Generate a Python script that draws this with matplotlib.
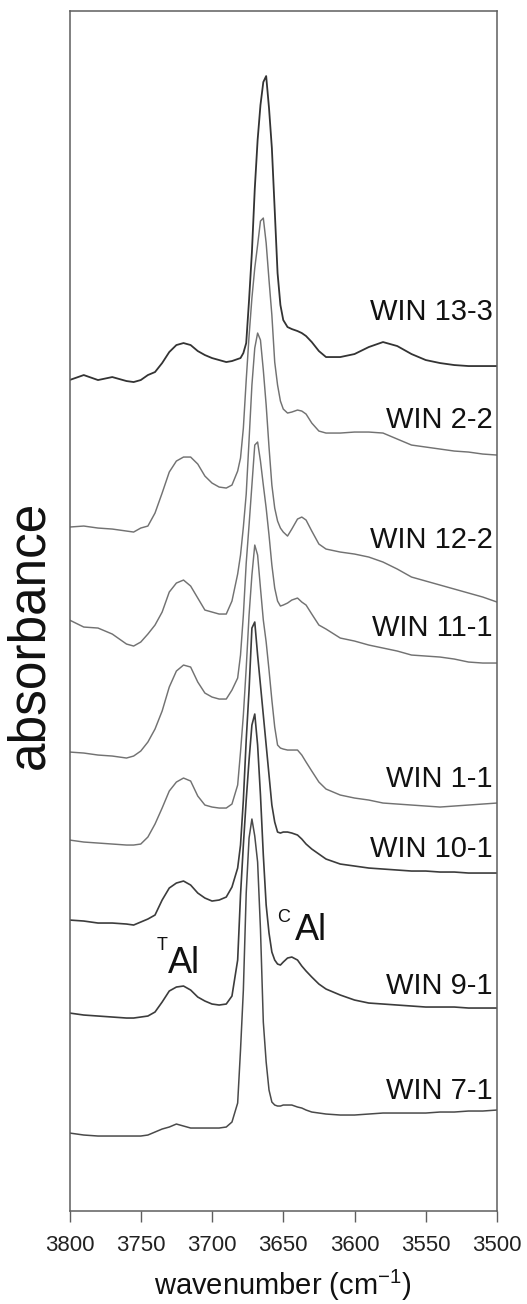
import numpy as np
import matplotlib.pyplot as plt

plt.rcParams['font.family'] = 'Liberation Sans'
plt.rcParams['mathtext.fontset'] = 'custom'
plt.rcParams['mathtext.rm'] = 'Liberation Sans'
plt.rcParams['mathtext.it'] = 'Liberation Sans:italic'

# wavenumber grid shared by all spectra (cm-1), finer across the sharp OH band
wn = [3800, 3790, 3780, 3770, 3760, 3755, 3750, 3745, 3740, 3735, 3730, 3725,
      3720, 3715, 3710, 3705, 3700, 3695, 3690, 3686,
      3682, 3680, 3678, 3676, 3674, 3672, 3670, 3668, 3666, 3664, 3662, 3660,
      3658, 3656, 3654, 3652, 3650,
      3647, 3644, 3640, 3637, 3634, 3630, 3625, 3620,
      3610, 3600, 3590, 3580, 3570, 3560, 3550, 3540, 3530, 3520, 3510, 3500]

# stacked absorbance, arbitrary units (x1000), vertical offsets included
win_13_3 = [831, 836, 831, 834, 830, 829, 831, 836, 839, 848, 859, 866, 868, 866, 860, 856, 853, 851, 849,
            850,
            852, 853, 858, 868, 911, 959, 1022, 1071, 1106, 1129, 1135, 1103, 1063, 1001, 938, 906, 891,
            884, 882, 880, 878, 875, 869, 860, 854,
            854, 857, 864, 869, 865, 857, 851, 848, 846, 845, 845, 845]
win_2_2 = [684, 685, 683, 682, 680, 679, 683, 685, 698, 718, 739, 750, 754, 754, 747, 735, 728, 724, 723,
           726,
           740, 753, 783, 831, 875, 913, 943, 966, 990, 993, 968, 931, 896, 849, 826, 810, 802,
           798, 799, 801, 800, 797, 788, 780, 778,
           778, 779, 779, 778, 772, 766, 764, 762, 760, 759, 757, 756]
win_12_2 = [591, 584, 583, 577, 567, 565, 569, 577, 586, 599, 619, 628, 631, 625, 613, 601, 599, 597, 597,
            610,
            637, 656, 684, 717, 771, 826, 863, 878, 871, 841, 806, 764, 726, 703, 690, 683, 679,
            675, 682, 692, 694, 691, 680, 667, 662,
            659, 657, 654, 649, 642, 634, 630, 626, 622, 618, 614, 609]
win_11_1 = [459, 458, 456, 455, 453, 455, 460, 469, 482, 500, 524, 540, 546, 544, 529, 518, 514, 512, 512,
            521,
            533, 556, 596, 648, 686, 726, 766, 769, 750, 726, 703, 676, 646, 623, 610, 605, 606,
            608, 611, 613, 609, 606, 597, 586, 582,
            573, 570, 566, 563, 560, 556, 555, 554, 552, 549, 548, 548]
win_1_1 = [371, 369, 368, 367, 366, 366, 367, 374, 387, 403, 420, 429, 433, 430, 415, 406, 404, 403, 403,
           407,
           426, 459, 496, 543, 596, 636, 666, 656, 623, 591, 569, 541, 511, 484, 466, 463, 462,
           461, 461, 461, 456, 449, 440, 429, 422,
           416, 413, 411, 408, 407, 406, 405, 404, 405, 406, 407, 408]
win_10_1 = [291, 290, 288, 288, 287, 286, 289, 292, 296, 311, 323, 328, 330, 326, 318, 313, 310, 311, 314,
            324,
            343, 366, 411, 471, 521, 583, 589, 556, 526, 496, 466, 436, 406, 389, 379, 378, 379,
            379, 378, 376, 372, 367, 362, 357, 352,
            347, 345, 343, 342, 341, 340, 340, 339, 339, 338, 338, 338]
win_9_1 = [198, 196, 195, 194, 193, 193, 194, 195, 199, 209, 220, 224, 225, 221, 214, 210, 207, 206, 207,
           215,
           251, 316, 366, 411, 451, 486, 497, 466, 416, 356, 306, 278, 259, 251, 247, 246, 249,
           253, 254, 251, 245, 240, 234, 227, 222,
           216, 211, 208, 207, 206, 205, 204, 204, 204, 203, 203, 203]
win_7_1 = [78, 76, 75, 75, 75, 75, 75, 76, 79, 82, 84, 87, 85, 83, 83, 83, 83, 83, 84,
           89,
           108, 161, 221, 318, 373, 392, 375, 349, 282, 189, 149, 121, 109, 106, 105, 105, 106,
           106, 106, 104, 103, 101, 99, 98, 97,
           96, 96, 97, 98, 98, 98, 98, 99, 99, 100, 100, 101]

names = ['WIN 13-3', 'WIN 2-2', 'WIN 12-2', 'WIN 11-1',
         'WIN 1-1', 'WIN 10-1', 'WIN 9-1', 'WIN 7-1']
spectra = [win_13_3, win_2_2, win_12_2, win_11_1, win_1_1, win_10_1, win_9_1, win_7_1]
xticks = [3800, 3750, 3700, 3650, 3600, 3550, 3500]

# drawing styles
colors = ['#333333', '#727272', '#727272', '#727272', '#727272', '#3c3c3c', '#3c3c3c', '#4a4a4a']
widths = [1.3, 1.05, 1.05, 1.05, 1.05, 1.2, 1.2, 1.1]
label_y = [891, 783, 663, 575, 424, 354, 217, 112]
frame = '#5e5e5e'

fig = plt.figure(figsize=(5.27, 13.04), dpi=100)
ax = fig.add_axes([0.1319, 0.0713, 0.8112, 0.9206])

for s, c, w in zip(spectra, colors, widths):
    ax.plot(wn, s, color=c, lw=w, solid_joinstyle='round')

for name, y in zip(names, label_y):
    ax.text(3503, y, name, ha='right', va='baseline', fontsize=21, color='#111111')

# band assignments
ax.text(3731, 238, 'Al', ha='left', va='baseline', fontsize=26, color='#111111')
ax.text(3739, 261, 'T', ha='left', va='baseline', fontsize=13, color='#111111')
ax.text(3642, 271, 'Al', ha='left', va='baseline', fontsize=26, color='#111111')
ax.text(3654, 289, 'C', ha='left', va='baseline', fontsize=13, color='#111111')

ax.set_xlim(3800, 3500)
ax.set_ylim(0, 1200.5)
ax.set_xticks(xticks)
ax.set_xticklabels([str(t) for t in xticks])
ax.set_yticks([])
ax.tick_params(axis='x', direction='out', length=8, width=1.0, color=frame,
               labelsize=16, pad=9, labelcolor='#222222')
for sp in ax.spines.values():
    sp.set_color(frame)
    sp.set_linewidth(1.1)

ax.set_xlabel(r'wavenumber (cm$^{-1}$)', fontsize=21, color='#111111')
ax.xaxis.set_label_coords(0.5, -0.047)
ax.set_ylabel('absorbance', fontsize=37, color='#111111')
ax.yaxis.set_label_coords(-0.035, 0.48)

fig.savefig('out.png', dpi=100)
